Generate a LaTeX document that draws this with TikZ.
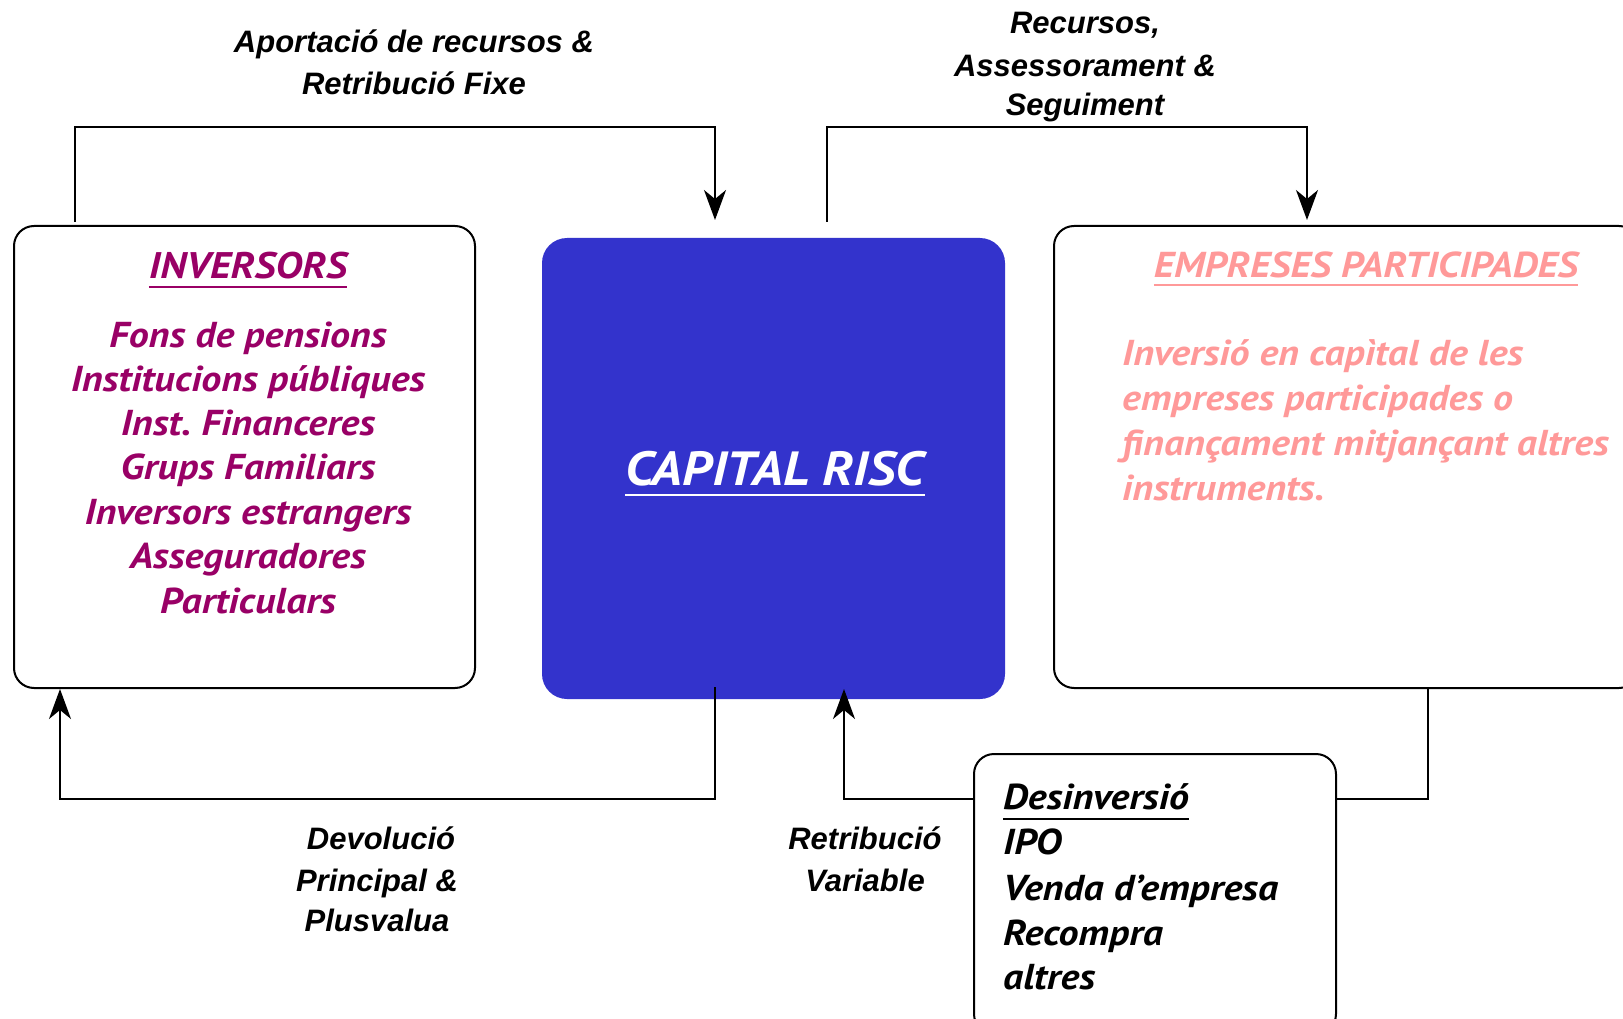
\documentclass[tikz,border=0pt]{standalone}
\usepackage{fontspec}
\setmainfont{Liberation Sans}
\newfontfamily\bxf[FakeStretch=1.11]{PT Sans}
\usetikzlibrary{arrows.meta}
\definecolor{invc}{HTML}{990066}
\definecolor{empc}{HTML}{FF9999}
\definecolor{capc}{HTML}{3333CC}
\begin{document}
\begin{tikzpicture}[x=1pt,y=-1pt,
  box/.style={draw=black,line width=2pt,rounded corners=20pt,inner sep=0,anchor=north west,rectangle},
  conn/.style={line width=1.8pt,draw=black},
  arr/.style={conn,-{Stealth[length=30pt,width=22pt,inset=9pt]}},
  lbl/.style={font=\fontsize{31}{40}\selectfont\bfseries\itshape,inner sep=0,anchor=base},
  bt/.style={font=\bxf\bfseries\itshape\fontsize{36}{44}\selectfont,inner sep=0,anchor=base},
  btl/.style={bt,anchor=base west},
]
\useasboundingbox (0,0) rectangle (1623,1019);
\clip (0,0) rectangle (1623,1019);
\fill[white] (0,0) rectangle (1623,1019);

% boxes
\node[box,minimum width=461pt,minimum height=462pt] (inv) at (13,225) {};
\node[box,draw=none,fill=capc,rounded corners=25pt,minimum width=463pt,minimum height=461pt] (cap) at (541,237) {};
\node[box,minimum width=585pt,minimum height=462pt] (emp) at (1053,225) {};
\node[box,minimum width=362pt,minimum height=280pt] (des) at (973,753) {};

% connector end points
\coordinate (s1) at (75,222);
\coordinate (e1) at (715,220);
\coordinate (s2) at (827,222);
\coordinate (e2) at (1307,220);
\coordinate (s3) at (715,687);
\coordinate (e3) at (60,689);
\coordinate (s4) at (973,799);
\coordinate (e4) at (844,689);
\coordinate (s5) at (1335,799);
\coordinate (e5) at (1428,687);

\draw[arr] (s1) -- (75,127) -| (e1);
\draw[arr] (s2) -- (827,127) -| (e2);
\draw[arr] (s3) -- (715,799) -| (e3);
\draw[arr] (s4) -| (e4);
\draw[conn] (s5) -| (e5);

% flow labels
\node[lbl] (la1) at (414,53) {Aportació de recursos \&};
\node[lbl] (la2) at (414,95) {Retribució Fixe};
\node[lbl] (lb1) at (1085,34) {Recursos,};
\node[lbl] (lb2) at (1085,77) {Assessorament \&};
\node[lbl] (lb3) at (1085,116) {Seguiment};
\node[lbl] (lc1) at (381,849) {Devolució};
\node[lbl] (lc2) at (377,891) {Principal \&};
\node[lbl] (lc3) at (377,931) {Plusvalua};
\node[lbl] (ld1) at (865,849) {Retribució};
\node[lbl] (ld2) at (865,891) {Variable};

% inversors
\node[bt,text=invc,font=\bxf\bfseries\itshape\fontsize{37}{44}\selectfont] (it) at (248,279) {INVERSORS};
\draw[invc,line width=2pt] ([yshift=-8pt]it.base west) -- ([yshift=-8pt]it.base east);
\node[bt,text=invc] (i1) at (248,347) {Fons de pensions};
\node[bt,text=invc] (i2) at (248,391) {Institucions públiques};
\node[bt,text=invc] (i3) at (248,435) {Inst.\ Financeres};
\node[bt,text=invc] (i4) at (248,479) {Grups Familiars};
\node[bt,text=invc] (i5) at (248,524) {Inversors estrangers};
\node[bt,text=invc] (i6) at (248,568) {Asseguradores};
\node[bt,text=invc] (i7) at (248,613) {Particulars};

% capital risc
\node[bt,text=white,font=\bxf\bfseries\itshape\fontsize{48}{56}\selectfont] (ct) at (775,485) {CAPITAL RISC};
\draw[white,line width=2pt] ([yshift=-10pt]ct.base west) -- ([yshift=-10pt]ct.base east);

% empreses
\node[bt,text=empc] (et) at (1366,277) {EMPRESES PARTICIPADES};
\draw[empc,line width=2pt] ([yshift=-8pt]et.base west) -- ([yshift=-8pt]et.base east);
\node[btl,text=empc] (e1t) at (1122,365) {Inversió en capìtal de les};
\node[btl,text=empc] (e2t) at (1122,410) {empreses participades o};
\node[btl,text=empc] (e3t) at (1122,455) {finançament mitjançant altres};
\node[btl,text=empc] (e4t) at (1122,500) {instruments.};

% desinversio
\node[btl] (dt) at (1003,809) {Desinversió};
\draw[black,line width=2pt] ([yshift=-10pt]dt.base west) -- ([yshift=-10pt]dt.base east);
\node[btl] (d1) at (1003,854) {IPO};
\node[btl] (d2) at (1003,900) {Venda d’empresa};
\node[btl] (d3) at (1003,945) {Recompra};
\node[btl] (d4) at (1003,989) {altres};
\end{tikzpicture}
\end{document}
